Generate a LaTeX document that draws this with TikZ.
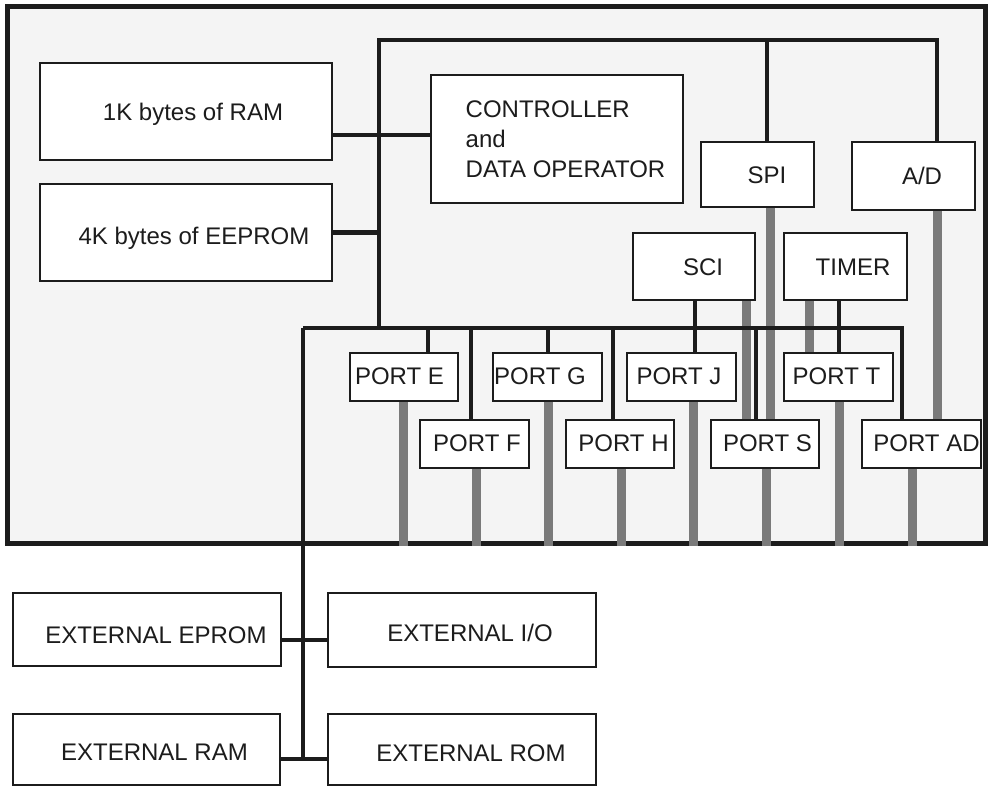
\documentclass[tikz,border=0pt]{standalone}
\usepackage{fontspec}
\setmainfont{Liberation Sans}
\definecolor{ink}{HTML}{1C1C1C}
\definecolor{sig}{HTML}{7A7A7A}
\definecolor{chipbg}{HTML}{F4F4F4}
\newcommand\blkfont{\fontsize{24}{30}\selectfont}
\pgfdeclarelayer{chip}
\pgfdeclarelayer{sigs}
\pgfdeclarelayer{wires}
\pgfsetlayers{chip,sigs,wires,main}

\begin{document}
\begin{tikzpicture}[x=1pt,y=-1pt,
  box/.style={draw=ink, line width=2.3pt, fill=white, inner sep=0pt, font=\blkfont, text=ink},
  blk/.style={box, text height=17.2pt, text depth=0pt},
  port/.style={blk, minimum width=108pt, minimum height=48pt, text depth=3pt},
  bus/.style={draw=ink, line width=4.8pt},
  sigline/.style={draw=sig, line width=9pt},
  tsh/.style={execute at begin node={\hspace*{#1}}},
]
\useasboundingbox (0,0) rectangle (991,787);

% on-chip blocks
\node[blk, minimum width=292pt, minimum height=97pt, tsh=14pt] (ram) at (186,111.5) {1K bytes of RAM};
\node[blk, minimum width=292pt, minimum height=97pt, tsh=16pt, text height=24.2pt] (eep) at (186,232.5) {4K bytes of EEPROM};
\node[box, minimum width=252pt, minimum height=128pt, align=left] (ctrl) at (557,139)
  {\hspace*{17pt}CONTROLLER\\\hspace*{17pt}and\\\hspace*{17pt}DATA OPERATOR};
\node[blk, minimum width=113pt, minimum height=65pt, tsh=19pt] (spi) at (757.5,174.5) {SPI};
\node[blk, minimum width=123pt, minimum height=68pt, tsh=17pt] (ad) at (913.5,176) {A/D};
\node[blk, minimum width=122pt, minimum height=67pt, tsh=18pt] (sci) at (694,266.5) {SCI};
\node[blk, minimum width=123pt, minimum height=67pt, tsh=15pt] (tmr) at (845.5,266.5) {TIMER};

% ports
\node[port, tsh=-9pt] (pe) at (404,377) {PORT E};
\node[port, tsh=-15pt, minimum width=109pt] (pg) at (547.5,377) {PORT G};
\node[port, tsh=-5pt, minimum width=109pt] (pj) at (681.5,377) {PORT J};
\node[port, tsh=-4pt, minimum width=109pt] (pt) at (838.5,377) {PORT T};
\node[port, tsh=5pt, minimum width=109pt] (pf) at (474.5,444) {PORT F};
\node[port, tsh=7pt] (ph) at (620,444) {PORT H};
\node[port, tsh=5pt] (ps) at (765,444) {PORT S};
\node[port, tsh=10pt, minimum width=119pt] (pad) at (921.5,444) {PORT AD};

% external devices
\node[blk, minimum width=268pt, minimum height=73pt, tsh=18pt, text height=27.2pt] (eprom) at (147,629.5) {EXTERNAL EPROM};
\node[blk, minimum width=268pt, minimum height=74pt, tsh=16pt, text height=23.2pt] (xio) at (462,630) {EXTERNAL I/O};
\node[blk, minimum width=267pt, minimum height=71pt, tsh=16pt, text height=22.2pt] (xram) at (146.5,749.5) {EXTERNAL RAM};
\node[blk, minimum width=268pt, minimum height=71pt, tsh=18pt, text height=24.2pt] (xrom) at (462,749.5) {EXTERNAL ROM};

% bus corners and junctions
\coordinate (tl) at (379,40);
\coordinate (tr) at (937,40);
\coordinate (spiT) at (767,40);
\coordinate (rj) at (379,135);
\coordinate (bl) at (303,328);
\coordinate (br) at (902,328);
\coordinate (ej1) at (303,640);
\coordinate (ej2) at (303,759);

% page background and chip outline
\begin{pgfonlayer}{chip}
  \fill[white] (0,0) rectangle (991,787);
  \draw[draw=ink, line width=5pt, fill=chipbg] (7,6) rectangle (985,543);
\end{pgfonlayer}

% port signal lines
\begin{pgfonlayer}{sigs}
  \draw[sigline] (spi.south -| 770,0) -- (ps.north -| 770,0);
  \draw[sigline] (ad.south -| 937,0) -- (pad.north -| 937,0);
  \draw[sigline] (sci.south -| 746,0) -- (ps.north -| 746,0);
  \draw[sigline] (tmr.south -| 809,0) -- (pt.north -| 809,0);
  \foreach \px/\nm in {403/pe,476/pf,548/pg,621/ph,693/pj,766/ps,839/pt,912/pad}
    \draw[sigline] (\nm.south -| \px,0) -- (\px,545.5);
\end{pgfonlayer}

% internal and external buses
\begin{pgfonlayer}{wires}
  \draw[bus] (rj |- bl) -- (tl) -- (tr) -- (tr |- ad.north);
  \draw[bus] (spiT) -- (spiT |- spi.north);
  \draw[bus] (rj -| ram.east) -- (rj -| ctrl.west);
  \draw[bus] (eep.east) -- (eep.east -| tl);
  \draw[bus] (bl) -- (br) -- (br |- pad.north);
  \foreach \px/\nm in {428/pe,471/pf,548/pg,613/ph,756/ps}
    \draw[bus] (\px,328) -- (\nm.north -| \px,0);
  \draw[bus] (sci.south -| 695,0) -- (pj.north -| 695,0);
  \draw[bus] (tmr.south -| 839,0) -- (pt.north -| 839,0);
  \draw[bus] (bl) -- (ej2);
  \draw[bus] (ej1 -| eprom.east) -- (ej1 -| xio.west);
  \draw[bus] (ej2 -| xram.east) -- (ej2 -| xrom.west);
\end{pgfonlayer}
\end{tikzpicture}
\end{document}
